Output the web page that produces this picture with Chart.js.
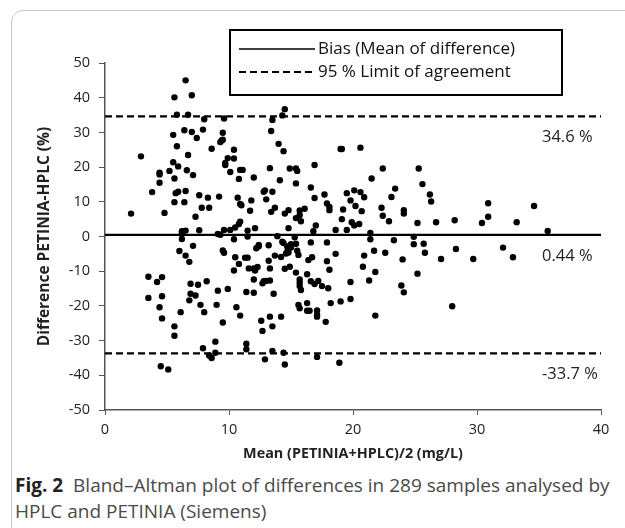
<!DOCTYPE html>
<html>
<head>
<meta charset="utf-8">
<script src="https://cdn.jsdelivr.net/npm/chart.js@4/dist/chart.umd.min.js"></script>
<style>
  body { margin: 0; width: 625px; height: 528px; overflow: hidden; background: #fff; font-family: "Open Sans", sans-serif; }
  #quadro { position: absolute; left: 11px; top: 10px; width: 650px; height: 560px; border: 1px solid #c8c8c8; border-radius: 12px; }
  #area { position: absolute; left: 0; top: 0; width: 625px; height: 470px; }
  #legenda { position: absolute; left: 15px; top: 472px; width: 608px; font-size: 19px; line-height: 26px; color: #4a4a4a; white-space: nowrap; }
  #legenda b { color: #222; }
</style>
</head>
<body>
<div id="quadro"></div>
<div id="area"><canvas id="grafico" width="625" height="470"></canvas></div>
<div id="legenda"><b>Fig. 2</b>&nbsp; Bland–Altman plot of differences in 289 samples analysed by<br>HPLC and PETINIA (Siemens)</div>
<script>
// media (PETINIA+HPLC)/2 em mg/L, diferenca em %
const media = [
  2.1, 2.9, 3.5, 3.5, 3.8, 4.2, 4.4, 4.4, 4.4, 4.6, 4.6, 4.4, 4.6, 4.5, 4.8, 5.1, 5.2, 5.5, 5.5, 5.6,
  5.6, 5.6, 5.6, 5.6, 5.7, 5.8, 5.8, 5.9, 5.9, 6.0, 6.1, 6.2, 6.2, 6.2, 6.4, 6.4, 6.5, 6.5, 6.5, 6.6,
  6.7, 6.7, 6.5, 6.8, 6.8, 6.9, 7.0, 7.0, 6.9, 7.1, 7.1, 7.3, 7.3, 7.4, 7.5, 7.6, 7.6, 7.7, 7.8, 7.9,
  7.9, 8.0, 8.0, 8.2, 8.3, 8.4, 8.4, 8.6, 8.6, 8.9, 8.9, 9.0, 9.1, 9.2, 9.1, 9.3, 9.3, 9.4, 9.5, 9.5,
  9.5, 9.5, 9.6, 9.6, 9.6, 9.7, 9.7, 9.9, 9.9, 10.1, 10.1, 10.4, 10.4, 10.4, 10.4, 10.5, 10.5, 10.6, 10.7, 10.8,
  10.8, 10.8, 10.9, 11.1, 10.9, 11.0, 10.9, 10.9, 11.3, 11.4, 11.4, 11.4, 11.5, 11.5, 11.5, 11.6, 11.8, 11.7, 12.0, 12.0,
  12.1, 12.0, 12.0, 12.1, 12.2, 12.4, 12.3, 12.4, 12.6, 12.7, 12.7, 12.8, 12.8, 12.9, 12.9, 13.0, 13.0, 13.2, 13.2, 13.3,
  13.3, 13.3, 13.3, 13.4, 13.4, 13.5, 13.5, 13.5, 13.5, 13.6, 13.7, 13.7, 13.9, 14.0, 14.1, 14.2, 14.2, 14.3, 14.4, 14.3,
  14.4, 14.4, 14.5, 14.5, 14.5, 14.5, 14.6, 14.7, 14.7, 14.8, 14.8, 14.8, 14.9, 15.0, 15.0, 14.9, 15.3, 15.4, 15.4, 15.5,
  15.4, 15.4, 15.4, 15.5, 15.6, 15.7, 15.6, 15.7, 15.7, 15.8, 15.7, 15.7, 15.7, 15.8, 16.1, 16.3, 16.3, 16.3, 16.5, 16.4,
  16.6, 16.6, 16.6, 16.7, 16.8, 16.9, 16.9, 16.9, 17.0, 17.1, 17.1, 17.1, 17.1, 17.2, 17.5, 17.7, 17.8, 17.9, 17.9, 17.9,
  18.0, 18.1, 18.1, 18.1, 18.2, 18.6, 18.6, 19.0, 19.1, 18.9, 19.0, 19.1, 19.2, 19.5, 19.5, 19.8, 19.8, 19.8, 19.9, 20.1,
  20.1, 20.2, 20.5, 20.6, 20.6, 20.7, 20.8, 20.9, 20.9, 21.3, 21.4, 21.4, 21.5, 21.7, 21.8, 21.8, 22.3, 22.4, 22.4, 22.6,
  22.9, 23.1, 23.3, 23.4, 23.9, 24.0, 24.1, 24.1, 24.1, 24.9, 24.9, 25.2, 25.2, 25.3, 25.6, 25.7, 25.8, 26.2, 26.3, 26.7,
  27.1, 28.0, 28.2, 28.3, 29.7, 30.4, 30.9, 30.9, 32.1, 32.9, 33.2, 34.6, 35.7
];
const diferenca = [
  6.6, 23.1, -11.6, -17.7, 12.8, -13.1, 18.4, 17.9, 15.5, -11.7, -17.2, -20.4, -23.6, -37.4, 6.8, -38.3, 18.9, 21.4, 29.3, 16.7,
  9.9, -25.9, -28.6, 40.1, 12.5, 35.1, 26.0, 20.2, 12.9, -4.2, -21.8, 1.5, 0.8, -0.7, 9.9, 30.6, 45.0, 13.1, -5.5, 19.1,
  35.1, 23.5, 1.7, -7.3, -18.4, -16.5, 30.1, 40.7, -13.6, 17.7, -2.7, -17.0, 5.7, 28.4, -13.9, 11.9, 1.8, -19.7, 8.3, -32.2,
  30.8, 33.8, -21.8, -12.9, 11.2, 8.3, -34.3, -35.0, 25.3, -33.5, -30.3, -19.7, -15.6, 11.5, 0.7, 0.5, 27.2, 27.7, -24.8, 29.9,
  27.9, -4.0, -4.7, 34.0, 1.9, 20.6, 21.2, -15.1, 22.6, 18.6, 1.9, 25.0, 22.5, -0.8, -9.8, 2.6, -6.0, -20.4, 11.2, 3.6,
  16.6, -7.9, 19.2, 19.2, 9.4, 9.0, 4.3, -22.8, -6.1, -16.0, -30.9, -32.5, 1.7, 0.0, -6.1, -9.2, 10.4, 7.4, 17.0, -9.2,
  -9.8, -12.4, -16.2, 2.4, -3.4, -2.8, -8.8, -2.4, -24.3, -27.2, -13.5, -12.9, 12.9, 13.3, -35.4, 10.7, -12.8, -2.5, -7.0, -9.2,
  -23.1, 19.7, -12.7, 7.1, 30.4, 12.9, 33.6, -25.9, -33.0, -16.5, 8.3, -5.5, 0.1, 26.7, 16.2, -5.9, -23.1, -1.5, -1.9, 34.9,
  -33.5, 24.6, 36.7, 6.6, -9.3, -36.9, -4.9, -2.9, -4.4, 7.6, -4.6, 2.4, 19.6, -2.2, -3.2, -8.7, -0.2, -2.1, 19.6, 18.9,
  15.3, 5.3, -10.4, -4.1, -5.3, -20.7, -19.7, 7.5, 6.2, 4.4, -12.4, -13.3, -14.3, -15.4, 8.0, -19.2, -10.9, -21.4, -21.4, -6.8,
  -12.9, 14.1, -1.7, -6.0, 1.5, 20.6, 11.1, -13.7, 3.2, -34.7, -21.3, -22.5, -23.1, -12.8, -14.3, 12.1, -24.6, -1.7, -7.1, 9.5,
  -14.9, -9.6, 8.5, 7.6, -19.2, 1.9, -5.0, 25.2, 25.2, -36.4, -18.7, 5.0, 7.8, 12.5, 1.9, -13.1, -18.0, 10.4, 4.1, 13.3,
  3.2, 8.8, 3.6, 12.8, 25.6, 7.3, -8.7, 11.3, -5.5, -12.7, 1.0, -0.8, 16.7, -4.1, -10.2, -22.8, 8.3, 6.0, 19.6, -4.7,
  4.4, 11.4, -1.1, 13.8, -14.1, -6.6, 7.6, 6.6, -16.1, -0.1, -2.2, -10.7, 3.9, 19.6, 15.1, -2.1, -4.7, 12.1, 10.1, 4.1,
  -6.5, -20.1, 4.7, -3.6, -6.5, 3.9, 5.7, 9.6, -3.2, -6.0, 4.1, 8.8, 1.6
];

const vies = 0.44;
const limiteSup = 34.6;
const limiteInf = -33.7;
const xLimites = [0, 40];
const yLimites = [-50, 50];

const fonte = '"Open Sans", sans-serif';

const rotulos = {
  id: 'rotulos',
  afterDatasetsDraw(chart) {
    const { ctx, chartArea, scales: { y } } = chart;
    ctx.save();
    ctx.font = '16.5px ' + fonte;
    ctx.fillStyle = '#222';
    ctx.textBaseline = 'middle';
    ctx.textAlign = 'left';
    [limiteSup, vies, limiteInf].forEach(v => {
      ctx.fillText(`${v} %`, chartArea.right - 59, y.getPixelForValue(v) + 21);
    });

    // caixa da legenda
    ctx.fillStyle = '#fff';
    ctx.fillRect(230, 30, 332, 65);
    ctx.lineWidth = 2;
    ctx.strokeStyle = '#000';
    ctx.strokeRect(230, 30, 332, 65);
    const itens = chart.data.datasets.filter(d => d.noLegenda);
    itens.forEach((d, i) => {
      const yy = 49 + i * 23;
      ctx.beginPath();
      ctx.setLineDash(d.borderDash || []);
      ctx.lineWidth = d.borderDash ? 1.8 : 1.5;
      ctx.moveTo(239, yy);
      ctx.lineTo(315, yy);
      ctx.stroke();
      ctx.setLineDash([]);
      ctx.fillStyle = '#111';
      ctx.font = '17px ' + fonte;
      ctx.fillText(d.label, 318, yy);
    });
    ctx.restore();
  }
};

const pontos = media.map((x, i) => ({ x: x, y: diferenca[i] }));
const linha = v => xLimites.map(x => ({ x: x, y: v }));

new Chart(document.getElementById('grafico'), {
  type: 'scatter',
  data: {
    datasets: [
      {
        label: 'Bias (Mean of difference)',
        type: 'line',
        data: linha(vies),
        borderColor: '#000',
        borderWidth: 2.2,
        pointRadius: 0,
        noLegenda: true
      },
      {
        label: '95 % Limit of agreement',
        type: 'line',
        data: linha(limiteSup),
        borderColor: '#000',
        borderWidth: 2.2,
        borderDash: [7, 4],
        pointRadius: 0,
        noLegenda: true
      },
      {
        label: 'lower',
        type: 'line',
        data: linha(limiteInf),
        borderColor: '#000',
        borderWidth: 2.2,
        borderDash: [7, 4],
        pointRadius: 0
      },
      {
        label: 'amostras',
        data: pontos,
        backgroundColor: '#000',
        borderWidth: 0,
        pointRadius: 3.2
      }
    ]
  },
  options: {
    responsive: false,
    animation: false,
    layout: { padding: { left: 0, right: 24, top: 63, bottom: 0 } },
    plugins: { legend: { display: false }, tooltip: { enabled: false } },
    scales: {
      x: {
        type: 'linear',
        min: xLimites[0],
        max: xLimites[1],
        afterFit: s => { s.height = 60; },
        ticks: { stepSize: 10, color: '#222', padding: 6, font: { family: fonte, size: 14.5 } },
        grid: { drawOnChartArea: false, tickLength: 5, color: '#555' },
        border: { color: '#555', width: 1.5 },
        title: {
          display: true,
          text: 'Mean (PETINIA+HPLC)/2 (mg/L)',
          color: '#222',
          font: { family: fonte, size: 14.4, weight: 'bold' },
          padding: { top: 0, bottom: 7 }
        }
      },
      y: {
        min: yLimites[0],
        max: yLimites[1],
        afterFit: s => { s.width = 105; },
        ticks: { stepSize: 10, color: '#222', padding: 9, font: { family: fonte, size: 14.5 } },
        grid: { drawOnChartArea: false, tickLength: 6, color: '#555' },
        border: { color: '#555', width: 1.5 },
        title: {
          display: true,
          text: 'Difference PETINIA-HPLC (%)',
          color: '#222',
          font: { family: fonte, size: 15.5, weight: 'bold' },
          padding: { top: 35, bottom: 4 }
        }
      }
    }
  },
  plugins: [rotulos]
});
</script>
</body>
</html>
